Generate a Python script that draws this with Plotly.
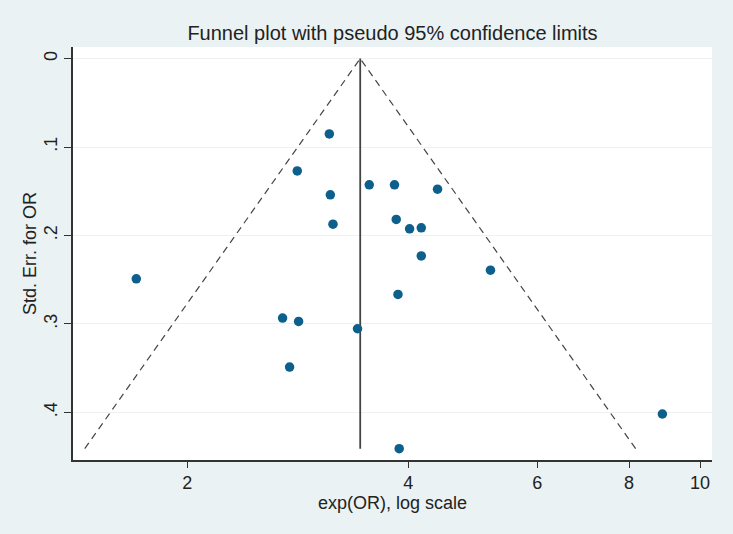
import numpy as np
import plotly.graph_objects as go

# Study estimates: exp(OR) and standard error
or_vals = [3.123, 2.824, 3.133, 3.540, 3.832, 4.386, 3.159, 3.853, 4.018, 4.168,
           4.168, 5.179, 1.704, 3.874, 2.697, 2.836, 3.412, 2.757, 8.883, 3.889]
se_vals = [0.0852, 0.1270, 0.1541, 0.1428, 0.1428, 0.1477, 0.1872, 0.1819, 0.1925, 0.1914,
           0.2231, 0.2392, 0.2490, 0.2667, 0.2934, 0.2972, 0.3055, 0.3488, 0.4019, 0.4411]
pooled_or = 3.441

x_tick_vals = [2, 4, 6, 8, 10]
x_tick_text = ["2", "4", "6", "8", "10"]
y_tick_vals = [0, 0.1, 0.2, 0.3, 0.4]
y_tick_text = ["0", ".1", ".2", ".3", ".4"]

se_max = max(se_vals)
lower_end = pooled_or * np.exp(-1.96 * se_max)
upper_end = pooled_or * np.exp(1.96 * se_max)

BG = "#eaf2f3"
MARK = "#0d5f8c"
FONT = "Liberation Sans, Arial, sans-serif"

fig = go.Figure()
fig.add_trace(go.Scatter(x=[lower_end, pooled_or, upper_end], y=[se_max, 0, se_max],
                         mode="lines", line=dict(color="#444444", width=1.2, dash="7px,5px"),
                         showlegend=False, hoverinfo="skip"))
fig.add_trace(go.Scatter(x=[pooled_or, pooled_or], y=[0, se_max],
                         mode="lines", line=dict(color="#444444", width=1.8),
                         showlegend=False, hoverinfo="skip"))
fig.add_trace(go.Scatter(x=or_vals, y=se_vals, mode="markers",
                         marker=dict(color=MARK, size=9.5, line=dict(width=0)),
                         showlegend=False))

fig.update_layout(
    width=733, height=534,
    paper_bgcolor=BG, plot_bgcolor="white",
    margin=dict(l=73, r=21, t=47, b=74),
    font=dict(family=FONT, color="#222222", size=18),
    title=dict(text="Funnel plot with pseudo 95% confidence limits",
               x=(73 + 712) / 2 / 733, xanchor="center", y=1 - 33 / 534, yanchor="middle",
               font=dict(size=20, color="#222222")),
    xaxis=dict(type="log", range=[np.log10(1.397), np.log10(10.38)],
               tickvals=x_tick_vals, ticktext=x_tick_text,
               showline=True, linecolor="#333333", linewidth=1.5,
               ticks="outside", ticklen=6, tickcolor="#333333", tickwidth=1.3,
               showgrid=False, zeroline=False,
               title=dict(text="exp(OR), log scale", standoff=4, font=dict(size=18)),
               tickfont=dict(size=18)),
    yaxis=dict(range=[0.4539, -0.0131],
               tickvals=y_tick_vals, ticktext=y_tick_text, tickangle=-90,
               showline=True, linecolor="#333333", linewidth=1.5,
               ticks="outside", ticklen=7, tickcolor="#333333", tickwidth=1.3,
               ticklabelstandoff=0,
               showgrid=True, gridcolor="#f0f0f0", gridwidth=1, zeroline=False,
               title=dict(text="Std. Err. for OR", standoff=0, font=dict(size=18)),
               tickfont=dict(size=18)),
)
fig.write_html("out.html", config={"displayModeBar": False},
               post_script="document.body.style.margin='0px';")
